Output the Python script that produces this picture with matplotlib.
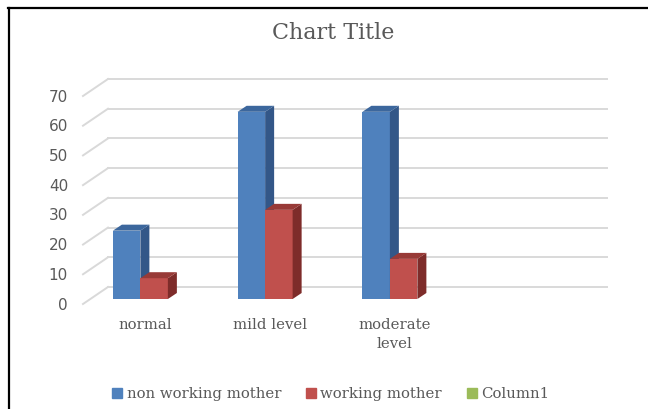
import matplotlib
matplotlib.use("Agg")
import matplotlib.pyplot as plt
from matplotlib.patches import Polygon
from matplotlib.lines import Line2D

# data
categories = ["normal", "mild level", "moderate\nlevel", ""]
non_working = [23, 63, 63, 0]
working = [7, 30, 13.5, 0]
series_names = ["non working mother", "working mother", "Column1"]
yticks = [0, 10, 20, 30, 40, 50, 60, 70]

# colours (front, side, top)
blue = ("#4f81bd", "#335788", "#3c679d")
red = ("#c0504d", "#7e2c2a", "#983a37")
green = "#9bbb59"
grid_c = "#d9d9d9"
text_c = "#595959"
serif = "DejaVu Serif"

W, H = 648, 409
fig = plt.figure(figsize=(W / 100, H / 100), dpi=100)
ax = fig.add_axes([78 / W, 110 / H, 499 / W, 208 / H])
ax.set_xlim(-0.5, 3.5)
ax.set_ylim(0, 70)
ax.axis("off")

# pixel -> data units
dxu = 4 / 499
dyu = 70 / 208

# back wall gridlines + left side diagonals
for t in yticks:
    yb = t + 12 * dyu
    ax.plot([-0.5 + 30 * dxu, 3.5 + 30 * dxu], [yb, yb], color=grid_c,
            lw=1.4, clip_on=False, zorder=0)
    ax.plot([-0.5 + 5 * dxu, -0.5 + 30 * dxu], [t - 5 * dyu, yb],
            color=grid_c, lw=1.4, clip_on=False, zorder=0)
    ax.text(-0.5 - 10 * dxu, t - 6 * dyu, str(t), ha="right", va="center",
            fontsize=11, color=text_c, family="DejaVu Sans")

# pseudo-3D bars
w = 27.5 * dxu
ddx, ddy = 9 * dxu, 6 * dyu


def bar3d(xl, v, cols, z):
    xr = xl + w
    ax.bar(xl, v, width=w, align="edge", color=cols[0], zorder=z)
    side = [(xr, 0), (xr, v), (xr + ddx, v + ddy), (xr + ddx, ddy)]
    top = [(xl, v), (xr, v), (xr + ddx, v + ddy), (xl + ddx, v + ddy)]
    ax.add_patch(Polygon(side, closed=True, color=cols[1], zorder=z,
                         clip_on=False, lw=0))
    ax.add_patch(Polygon(top, closed=True, color=cols[2], zorder=z,
                         clip_on=False, lw=0))


for i, (a, b) in enumerate(zip(non_working, working)):
    if a:
        bar3d(i - w, a, blue, 3 + i)
    if b:
        bar3d(i, b, red, 3.5 + i)

# category labels
for i, c in enumerate(categories):
    ax.text(i + 5 * dxu, -19 * dyu, c, ha="center", va="top", fontsize=10.7,
            color=text_c, family=serif, linespacing=1.45)

# title
fig.text(333 / W, 1 - 33 / H, "Chart Title", ha="center", va="center",
         fontsize=16, color=text_c, family=serif)

# legend
handles = [Line2D([], [], marker="s", ls="none", markersize=7,
                  color=c) for c in (blue[0], red[0], green)]
fig.legend(handles, series_names, loc="center",
           bbox_to_anchor=(331 / W, 15 / H), ncol=3, frameon=False,
           handlelength=0.6, handletextpad=0.35, columnspacing=1.7,
           prop={"family": serif, "size": 10.7}, labelcolor=text_c)

# outer frame (top and left only)
fig.add_artist(Line2D([8 / W, 1], [1 - 8 / H, 1 - 8 / H], color="black",
                      lw=1.6, transform=fig.transFigure))
fig.add_artist(Line2D([9 / W, 9 / W], [1 - 8 / H, 0], color="black",
                      lw=1.6, transform=fig.transFigure))

fig.savefig("out.png", dpi=100)
